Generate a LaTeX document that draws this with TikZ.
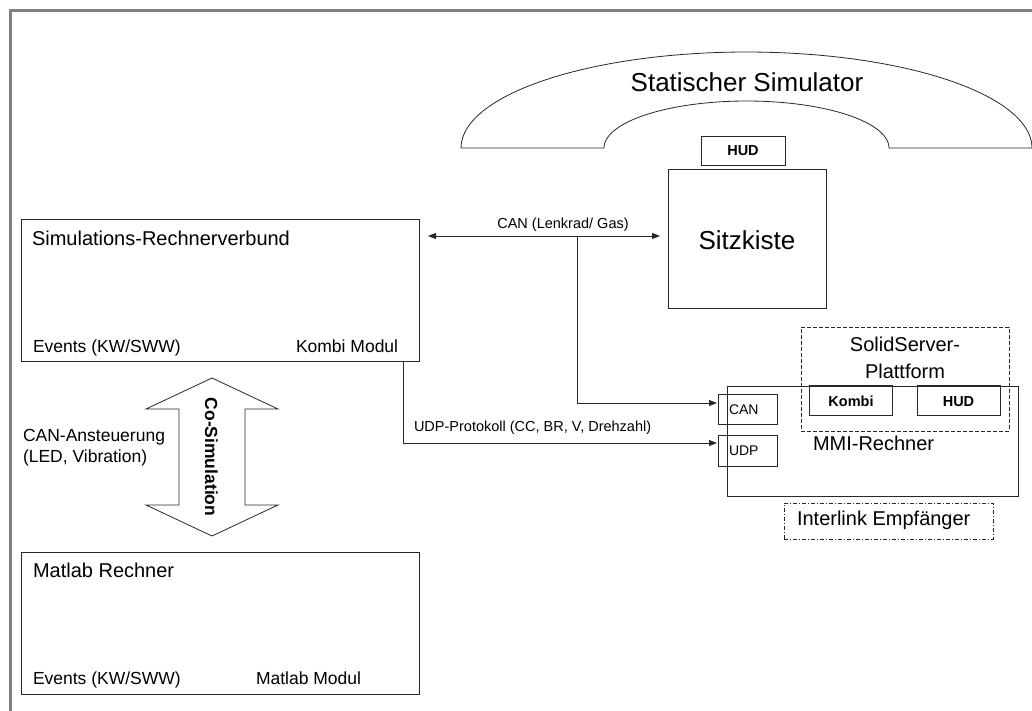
\documentclass[tikz,border=0pt]{standalone}
\usepackage{fontspec}
\setmainfont{Liberation Sans}
\usetikzlibrary{arrows.meta}
\definecolor{framegray}{RGB}{128,128,128}
\definecolor{linecol}{RGB}{40,40,40}
\tikzset{
  box/.style={draw=linecol, line width=0.8pt, rectangle, inner sep=0pt, outer sep=0pt},
  dashbox/.style={box, dash pattern=on 4pt off 2pt},
  dashdotbox/.style={box, dash pattern=on 4pt off 2pt on 1pt off 2pt},
  txt/.style={inner sep=0pt, outer sep=0pt, text=black},
  conn/.style={draw=linecol, line width=0.8pt},
  tip/.style={-{Triangle[length=8pt,width=6pt]}},
  dtip/.style={{Triangle[length=8pt,width=6pt]}-{Triangle[length=8pt,width=6pt]}},
}
\newcommand{\fs}[1]{\fontsize{#1}{#1}\selectfont}
\begin{document}
\begin{tikzpicture}[x=1pt,y=-1pt]
\useasboundingbox (0,0) rectangle (1032,711);
% outer frame (top and left)
\draw[framegray, line width=3pt] (10.5,711) -- (10.5,10.5) -- (1032,10.5);

% Statischer Simulator arch
\draw[linecol, line width=0.8pt]
  plot[domain=180:0, samples=80] ({746.5+285.5*cos(\x)},{148-96*sin(\x)})
  -- (889,148)
  -- plot[domain=0:180, samples=60] ({746.5+142.5*cos(\x)},{148-47*sin(\x)})
  -- cycle;
\node[txt, anchor=base] (title) at (747,91.5) {\fs{26}Statischer Simulator};

% Sitzkiste with HUD
\node[box, minimum width=84pt, minimum height=29pt] (hudA) at (743,150.5) {};
\node[txt, anchor=base] (hudAt) at (743,155.5) {\fs{14.5}\bfseries HUD};
\node[box, minimum width=158pt, minimum height=139pt] (sitz) at (747,238.5) {};
\node[txt, anchor=base] (sitzt) at (747,249) {\fs{26}Sitzkiste};

% Simulations-Rechnerverbund
\node[box, minimum width=398pt, minimum height=142.5pt] (sim) at (220,290.25) {};
\node[txt, anchor=base west] (simt) at (32,245) {\fs{20}Simulations-Rechnerverbund};
\node[txt, anchor=base west] (ev1) at (33,352) {\fs{17.5}Events (KW/SWW)};
\node[txt, anchor=base west] (kmod) at (296,352) {\fs{17.5}Kombi Modul};

% Matlab Rechner
\node[box, minimum width=398pt, minimum height=142pt] (mat) at (220,623) {};
\node[txt, anchor=base west] (matt) at (33,577.5) {\fs{20}Matlab Rechner};
\node[txt, anchor=base west] (ev2) at (33,684) {\fs{17.5}Events (KW/SWW)};
\node[txt, anchor=base west] (mmod) at (256,684) {\fs{17.5}Matlab Modul};

% Co-Simulation block arrow
\draw[linecol, line width=0.8pt, fill=white]
  (212,378) -- (278,409) -- (245,409) -- (245,505) -- (278,505) -- (212,536)
  -- (146,505) -- (179,505) -- (179,409) -- (146,409) -- cycle;
\node[txt, rotate=-90] (cosim) at (211.5,457) {\fs{17.5}\bfseries Co-Simulation};
\node[txt, anchor=base west] (cana) at (23,441.7) {\fs{17.5}CAN-Ansteuerung};
\node[txt, anchor=base west] (led) at (23,462) {\fs{17.5}(LED, Vibration)};

% MMI-Rechner group
\node[dashbox, minimum width=208pt, minimum height=104pt] (solid) at (905,379) {};
\node[txt, anchor=base] (solid1) at (905,351) {\fs{20}SolidServer-};
\node[txt, anchor=base] (solid2) at (905,378) {\fs{20}Plattform};
\node[box, minimum width=291pt, minimum height=110pt] (mmi) at (872.5,441) {};
\node[txt, anchor=base west] (mmit) at (813,450) {\fs{20}MMI-Rechner};
\node[box, minimum width=83pt, minimum height=29.5pt] (kombi) at (851,400.25) {};
\node[txt, anchor=base] (kombit) at (851,406.7) {\fs{14.5}\bfseries Kombi};
\node[box, minimum width=83pt, minimum height=29.5pt] (hudB) at (958.5,400.25) {};
\node[txt, anchor=base] (hudBt) at (958.5,406.7) {\fs{14.5}\bfseries HUD};
\node[box, minimum width=59pt, minimum height=30pt] (canbox) at (747.5,409) {};
\node[txt, anchor=base west] (canbt) at (729,414) {\fs{14}CAN};
\node[box, minimum width=59pt, minimum height=31pt] (udpbox) at (747.5,450.5) {};
\node[txt, anchor=base west] (udpbt) at (729,455.5) {\fs{14}UDP};
\node[dashdotbox, minimum width=209pt, minimum height=36pt] (inter) at (888.5,521) {};
\node[txt, anchor=base west] (intert) at (797,525) {\fs{20}Interlink Empf\"anger};

% CAN connections
\coordinate (canL) at (428,236);
\coordinate (canR) at (660,236);
\coordinate (canJ) at (577,236);
\draw[conn, dtip] (canL) -- (canR);
\node[txt, anchor=base] (cant) at (563,228.5) {\fs{14.5}CAN (Lenkrad/ Gas)};
\draw[conn, tip] (canJ) |- ([yshift=6pt,xshift=-1pt]canbox.west);

% UDP connection
\draw[conn, tip] ([xshift=-16pt]sim.south east) |- ([yshift=7.5pt,xshift=-1pt]udpbox.west);
\node[txt, anchor=base west] (udpt) at (414,431) {\fs{14.5}UDP-Protokoll (CC, BR, V, Drehzahl)};
\end{tikzpicture}
\end{document}
